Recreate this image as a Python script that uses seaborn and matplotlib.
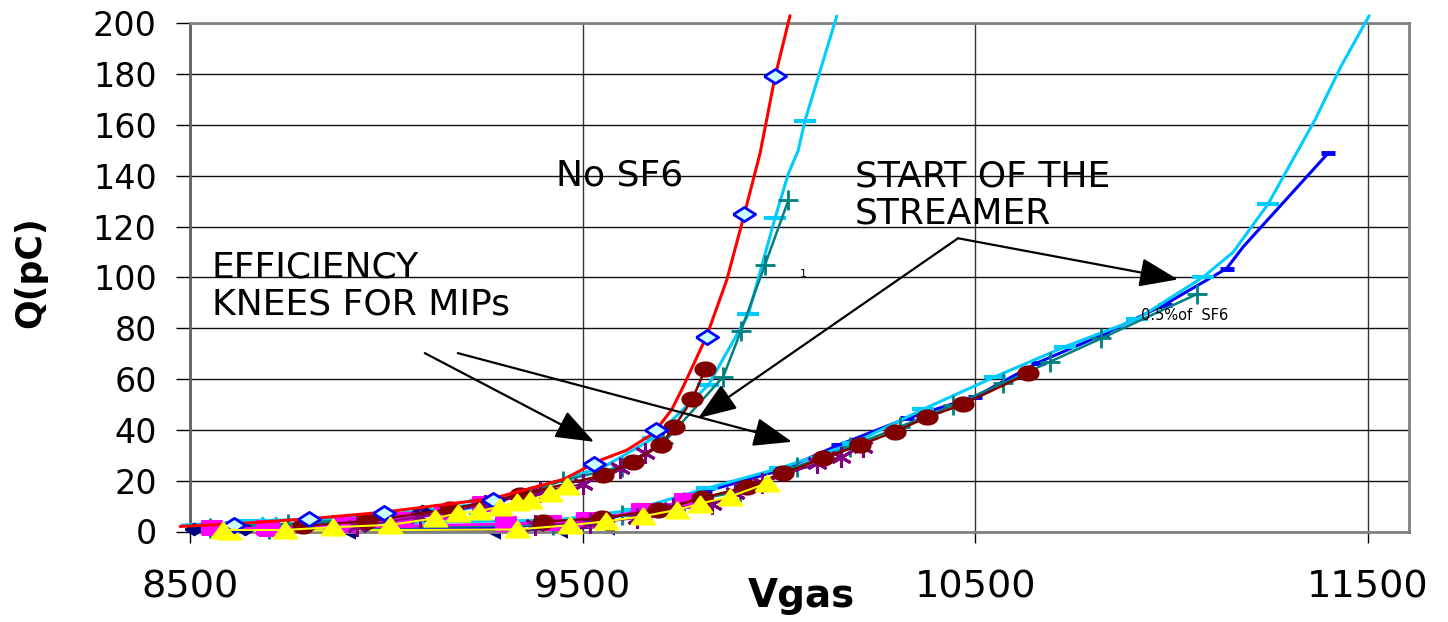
import numpy as np
import pandas as pd
import matplotlib
matplotlib.use("Agg")
import matplotlib.pyplot as plt
import seaborn as sns

# ---------------- data ----------------
# Group "No SF6"
red_x = [8475, 8613, 8804, 8994, 9271, 9451, 9544, 9612, 9680, 9727, 9756, 9816, 9867, 9912, 9952, 9990, 10028]
red_y = [2.0, 3.0, 5.0, 7.6, 13.0, 20.5, 28.0, 32.0, 38.6, 48.0, 57.0, 77.0, 99.0, 125.0, 149.0, 179.0, 203.0]

diam_x = [8613, 8804, 8994, 9271, 9530, 9686, 9816, 9912, 9990]
diam_y = [2.6, 4.8, 7.4, 12.4, 26.4, 39.9, 76.4, 124.9, 179.2]

cyanA_x = [8480, 8650, 8830, 9000, 9271, 9424, 9560, 9680, 9820, 9922, 9990, 10024, 10049, 10066, 10147]
cyanA_y = [2.5, 4.0, 5.0, 6.5, 11.5, 19.0, 26.0, 36.7, 57.6, 85.5, 123.4, 140.9, 150.0, 161.6, 202.8]
cyanA_marks = [1, 2, 7, 8, 9, 10, 13]

tealA_x = [8550, 8750, 9000, 9271, 9449, 9599, 9705, 9858, 9903, 9964, 10024]
tealA_y = [1.5, 3.0, 5.5, 11.0, 20.0, 25.5, 34.7, 60.9, 78.9, 104.8, 130.4]

maroonA_x = [8788, 8950, 9162, 9340, 9553, 9629, 9699, 9733, 9779, 9812]
maroonA_y = [2.2, 4.1, 8.7, 14.4, 22.2, 27.5, 34.0, 41.2, 52.0, 63.8]

purpleA_x = [8925, 9086, 9250, 9391, 9502, 9595, 9659]
purpleA_y = [2.0, 5.8, 10.5, 15.6, 18.7, 24.9, 30.8]

yellowA_x = [8585, 8742, 8863, 9009, 9124, 9183, 9237, 9289, 9332, 9366, 9417, 9459]
yellowA_y = [0.6, 0.6, 1.7, 2.6, 5.2, 7.2, 8.0, 9.8, 11.7, 12.4, 15.0, 17.9]

magentaA_x = [8555, 8695, 8895, 9042, 9150, 9247]
magentaA_y = [1.3, 1.3, 2.5, 4.5, 7.5, 11.0]

navyA_x = [8510, 8640, 8800, 8950, 9092]
navyA_y = [0.8, 0.8, 2.0, 3.0, 8.0]

cyanX_x = [8700, 8880, 9060, 9230]
cyanX_y = [2.5, 3.5, 4.8, 9.5]

# Group "0.5% of SF6"
blueB_x = [8750, 9300, 9550, 9700, 9812, 10012, 10151, 10325, 10499, 10660, 10822, 10982, 11140, 11182, 11399]
blueB_y = [0.8, 1.5, 5.0, 9.0, 15.7, 24.5, 34.0, 44.5, 53.0, 66.5, 77.3, 89.3, 103.5, 112.0, 149.0]
blueB_marks = [1, 2, 3, 4, 5, 6, 7, 8, 9, 10, 11, 12, 14]

cyanB_x = [8650, 9434, 9629, 9816, 10002, 10189, 10367, 10550, 10728, 10911, 11081, 11157, 11246, 11365, 11431, 11503]
cyanB_y = [2.5, 4.5, 8.5, 17.0, 24.9, 34.7, 48.1, 60.9, 72.7, 83.5, 100.2, 110.0, 129.0, 162.0, 183.0, 203.0]
cyanB_marks = [1, 2, 3, 4, 5, 6, 7, 8, 9, 10, 12]

tealB_x = [8700, 9425, 9599, 9757, 9901, 10045, 10181, 10308, 10444, 10571, 10690, 10821, 11064]
tealB_y = [0.8, 2.6, 6.5, 11.7, 15.7, 25.5, 33.4, 41.2, 49.8, 58.3, 66.8, 76.0, 93.4]

maroonB_x = [9399, 9548, 9693, 9803, 9918, 10011, 10113, 10206, 10295, 10376, 10469, 10635]
maroonB_y = [3.9, 5.2, 8.5, 13.1, 17.6, 22.9, 28.8, 34.0, 39.3, 44.9, 50.1, 62.2]

purpleB_x = [9379, 9519, 9638, 9731, 9829, 9888, 9956, 10096, 10159, 10215]
purpleB_y = [2.6, 3.2, 5.3, 9.1, 11.0, 15.0, 19.0, 26.8, 29.4, 33.4]

yellowB_x = [8600, 9332, 9468, 9560, 9654, 9739, 9800, 9875, 9969]
yellowB_y = [0.3, 0.8, 2.5, 4.0, 6.0, 8.5, 11.0, 13.7, 19.0]

magentaB_x = [8700, 9306, 9420, 9510, 9650, 9760]
magentaB_y = [1.0, 3.0, 3.5, 4.5, 8.0, 12.0]

navyB_x = [8900, 9269, 9440, 9560]
navyB_y = [0.5, 0.6, 1.0, 2.0]

x_ticks = [8500, 9500, 10500, 11500]
y_ticks = list(range(0, 201, 20))

# ---------------- style ----------------
sns.set_theme(style="white")
plt.rcParams['font.family'] = ['DejaVu Sans']

W, H = 1448, 622
fig = plt.figure(figsize=(W / 100, H / 100), dpi=100)
L, R, T, B = 190, 1409, 23.3, 531.5
ax = fig.add_axes([L / W, 1 - B / H, (R - L) / W, (B - T) / H])

# custom (horizontally stretched) marker shapes
ell = [(np.cos(t), 0.7 * np.sin(t)) for t in np.linspace(0, 2 * np.pi, 40)]
wdiam = [(-1, 0), (0, 0.64), (1, 0), (0, -0.64), (-1, 0)]
wtri = [(-1, -0.68), (1, -0.68), (0, 0.68), (-1, -0.68)]
wsq = [(-1, -0.65), (1, -0.65), (1, 0.65), (-1, 0.65), (-1, -0.65)]


def draw(x, y, color, lw=2.0, ls='-', marker=None, ms=10, mfc=None, mec=None,
         mew=1.5, markevery=None, z=2):
    kw = dict(color=color, lw=lw, linestyle=ls, clip_on=False, zorder=z)
    if marker is not None:
        kw.update(marker=marker, markersize=ms,
                  markerfacecolor=mfc if mfc is not None else color,
                  markeredgecolor=mec if mec is not None else color,
                  markeredgewidth=mew)
        if markevery is not None:
            kw['markevery'] = markevery
    sns.lineplot(x=x, y=y, ax=ax, sort=False, estimator=None, legend=False, **kw)


navy = '#000080'
magenta = '#FF00FF'
cyan = '#00CCFF'
teal = '#008080'
purple = '#800080'
maroon = '#800000'
blue = '#0000FF'
yellow = '#FFFF00'

# group 0.5% SF6
draw(navyB_x, navyB_y, navy, lw=2, marker='<', ms=11, z=2)
draw(blueB_x, blueB_y, blue, lw=2.2, marker='_', ms=9.5, mew=3.5, markevery=blueB_marks, z=3)
draw(cyanB_x, cyanB_y, cyan, lw=2.2, marker='_', ms=16, mew=3, markevery=cyanB_marks, z=3)
draw(tealB_x, tealB_y, teal, lw=1.8, marker='+', ms=14, mew=2, z=3)
draw(magentaB_x, magentaB_y, magenta, lw=2, marker=wsq, ms=15, z=3.5)
draw(purpleB_x, purpleB_y, purple, lw=1.5, marker=(6, 2, 0), ms=15, mew=2.2, z=3.6)
draw(maroonB_x, maroonB_y, maroon, lw=1.8, marker=ell, ms=14.5, z=4)
draw(yellowB_x, yellowB_y, yellow, lw=1.5, marker=wtri, ms=17, z=4)

# group No SF6
draw(cyanX_x, cyanX_y, cyan, lw=1.5, marker='x', ms=11, mew=2.5, z=2)
draw(cyanA_x, cyanA_y, cyan, lw=2.2, marker='_', ms=16, mew=3, markevery=cyanA_marks, z=3)
draw(tealA_x, tealA_y, teal, lw=1.8, marker='+', ms=14, mew=2, z=3)
draw(navyA_x, navyA_y, navy, lw=2, marker=wdiam, ms=13, z=4.5)
draw(magentaA_x, magentaA_y, magenta, lw=2, marker=wsq, ms=15, z=4.6)
draw(purpleA_x, purpleA_y, purple, lw=1.5, marker=(6, 2, 0), ms=15, mew=2.2, z=4.7)
draw(maroonA_x, maroonA_y, maroon, lw=1.8, marker=ell, ms=14.5, z=4.8)
draw(red_x, red_y, '#FF0000', lw=2.2, z=5)
draw(diam_x, diam_y, blue, ls='none', marker=wdiam, ms=16, mfc='#CCFFFF', mec=blue, mew=2, z=6)
draw(yellowA_x, yellowA_y, yellow, lw=1.5, marker=wtri, ms=17, z=6)

# ---------------- axes ----------------
ax.set_xlim(8500, 8500 + (R - L) * 3000 / (1368 - 190))
ax.set_ylim(0, 200)
ax.set_xticks(x_ticks)
ax.set_yticks(y_ticks)
ax.set_xticklabels([str(v) for v in x_ticks])
ax.set_yticklabels([str(v) for v in y_ticks])
ax.grid(True, axis='y', color='#111111', lw=1.0, zorder=0)
ax.grid(True, axis='x', color='#333333', lw=1.0, zorder=0)
ax.set_axisbelow(True)
for s in ['top', 'right', 'bottom']:
    ax.spines[s].set_color('#808080')
    ax.spines[s].set_linewidth(2)
ax.spines['left'].set_color('#606060')
ax.spines['left'].set_linewidth(2)
ax.tick_params(axis='x', direction='out', length=8, width=1, color='black',
               pad=19, labelsize=27.5, labelcolor='black', bottom=True)
ax.tick_params(axis='y', direction='out', length=10, width=1, color='black',
               pad=14, labelsize=24, labelcolor='black', left=True)

ax.set_xlabel('Vgas', fontsize=28, fontweight='bold', color='black')
ax.xaxis.set_label_coords((801 - L) / (R - L), -0.09)
ax.set_ylabel('Q(pC)', fontsize=25, fontweight='bold', color='black')
ax.yaxis.set_label_coords(-(L - 47) / (R - L), 0.51)

# ---------------- annotations ----------------
ax.text(9593, 140, 'No SF6', fontsize=26, ha='center', va='center', color='black', zorder=7)
ax.text(10193, 132.5, 'START OF THE\nSTREAMER', fontsize=26, ha='left', va='center',
        linespacing=1.12, color='black', zorder=7)
ax.text(8555, 96.7, 'EFFICIENCY\nKNEES FOR MIPs', fontsize=26, ha='left', va='center',
        linespacing=1.12, color='black', zorder=7)
ax.text(11034, 85.2, '0.5%of  SF6', fontsize=10.5, ha='center', va='center', color='black', zorder=7)
ax.text(10062, 101.3, '1', fontsize=8, ha='center', va='center', color='black', zorder=7)

arrows = [((9098, 70.2), (9529, 35.3)),
          ((9182, 70.2), (10033, 35.3)),
          ((10456, 115.4), (9794, 44.6)),
          ((10456, 115.4), (11016, 99.2))]
for tail, tip in arrows:
    ax.annotate('', xy=tip, xytext=tail, xycoords='data', textcoords='data',
                arrowprops=dict(arrowstyle='-|>,head_length=2.4,head_width=0.9',
                                mutation_scale=10, color='black', lw=1.6,
                                shrinkA=0, shrinkB=0),
                zorder=8)

fig.savefig('out.png', dpi=100, facecolor='white')
